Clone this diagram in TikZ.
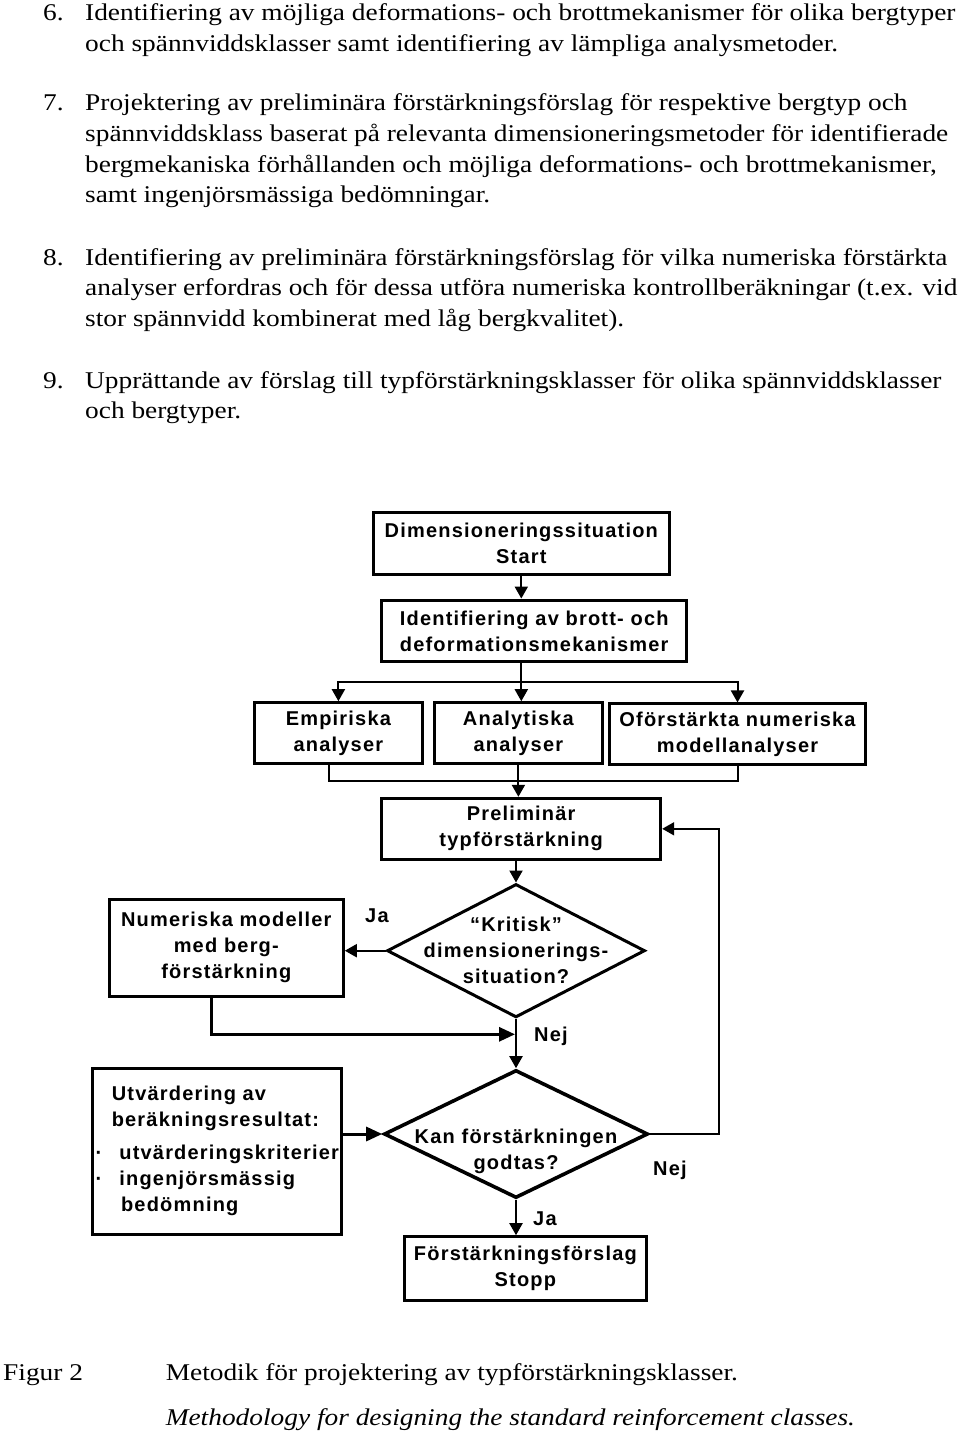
\documentclass[tikz,border=0pt]{standalone}
\usepackage{fontspec}
\setmainfont{Liberation Serif}[FakeStretch=1.14]
\newfontfamily\chartfont{Liberation Sans}[LetterSpace=6]
\usetikzlibrary{arrows.meta,shapes.geometric}

\begin{document}
\begin{tikzpicture}[x=1pt,y=1pt,yscale=-1,
  txt/.style={anchor=base west,inner sep=0pt,font=\fontsize{24}{30}\selectfont},
  btxt/.style={inner sep=0pt,align=center,font=\chartfont\bfseries\fontsize{20}{26}\selectfont},
  box/.style={btxt,draw,line width=3pt},
  decision/.style={draw,shape=diamond,line width=3pt,inner sep=0pt},
  lbl/.style={anchor=base west,inner sep=0pt,font=\chartfont\bfseries\fontsize{20}{26}\selectfont},
  link/.style={line width=2pt},
  arr/.style={line width=2pt,-{Triangle[length=12pt,width=13pt]}},
  bigarr/.style={line width=3pt,-{Triangle[length=16pt,width=14pt]}}
]
\path[use as bounding box,fill=white] (0,0) rectangle (960,1436);

% Text lines
\node[txt] (n6) at (43,20.7) {6.};
\node[txt] (p6a) at (85,20.7) {Identifiering av möjliga deformations- och brottmekanismer för olika bergtyper};
\node[txt] (p6b) at (85,51.4) {och spännviddsklasser samt identifiering av lämpliga analysmetoder.};
\node[txt] (n7) at (43,110.7) {7.};
\node[txt] (p7a) at (85,110.7) {Projektering av preliminära förstärkningsförslag för respektive bergtyp och};
\node[txt] (p7b) at (85,141.4) {spännviddsklass baserat på relevanta dimensioneringsmetoder för identifierade};
\node[txt] (p7c) at (85,172.1) {bergmekaniska förhållanden och möjliga deformations- och brottmekanismer,};
\node[txt] (p7d) at (85,202.8) {samt ingenjörsmässiga bedömningar.};
\node[txt] (n8) at (43,265) {8.};
\node[txt] (p8a) at (85,265) {Identifiering av preliminära förstärkningsförslag för vilka numeriska förstärkta};
\node[txt] (p8b) at (85,295.7) {analyser erfordras och för dessa utföra numeriska kontrollberäkningar (t.ex. vid};
\node[txt] (p8c) at (85,326.4) {stor spännvidd kombinerat med låg bergkvalitet).};
\node[txt] (n9) at (43,388) {9.};
\node[txt] (p9a) at (85,388) {Upprättande av förslag till typförstärkningsklasser för olika spännviddsklasser};
\node[txt] (p9b) at (85,418.7) {och bergtyper.};

% Boxes
\node[box,minimum width=296pt,minimum height=61.3pt] (start) at (521.3,543.4) {Dimensioneringssituation\\Start};
\node[box,minimum width=305pt,minimum height=61.7pt] (ident) at (534.2,630.9) {Identifiering av brott- och\\deformationsmekanismer};
\node[box,minimum width=168.7pt,minimum height=60.6pt] (emp) at (338.4,733) {Empiriska\\analyser};
\node[box,minimum width=168.7pt,minimum height=60.6pt] (ana) at (518.4,733) {Analytiska\\analyser};
\node[box,minimum width=256.4pt,minimum height=60.7pt] (ofo) at (737.5,734.3) {Oförstärkta numeriska\\modellanalyser};
\node[box,minimum width=279pt,minimum height=61pt] (prel) at (521.2,828.8) {Preliminär\\typförstärkning};
\node[box,minimum width=234pt,minimum height=96.7pt] (num) at (226.3,947.7) {Numeriska modeller\\med berg-\\förstärkning};
\node[box,minimum width=248.3pt,minimum height=166pt,text width=210.3pt,align=left,inner xsep=19pt] (utv) at (216.9,1151.3)
  {Utvärdering av\\beräkningsresultat:\\[7pt]\hspace*{7.6pt}\llap{·\hspace{17pt}}utvärderingskriterier\\\hspace*{7.6pt}\llap{·\hspace{17pt}}ingenjörsmässig\\\hspace*{9.3pt}bedömning};
\node[box,minimum width=242.7pt,minimum height=64pt] (stopp) at (525.4,1268.7) {Förstärkningsförslag\\Stopp};

% Decisions
\node[decision,minimum width=258pt,minimum height=133.4pt] (krit) at (516,950.7) {};
\node[btxt] (kritq) at (516,950.5) {“Kritisk”\\dimensionerings-\\situation?};
\node[decision,minimum width=264pt,minimum height=128pt,line width=3.6pt] (kan) at (516,1134) {};
\node[btxt] (kanq) at (516,1151) {Kan förstärkningen\\godtas?};

% Connectors
\coordinate (split) at (521.3,681.7);
\coordinate (merge) at (518.4,781);
\coordinate (join) at (515,1034.3);
\coordinate (loop) at (719.3,1134);
\draw[arr] (start.south) -- (start.south |- ident.north);
\draw[link] (start.south |- ident.south) -- (split);
\draw[arr] (split) -| (emp.north);
\draw[arr] (split) -- (split |- ana.north);
\draw[arr] (split) -| (ofo.north);
\draw[link] ([xshift=-9pt]emp.south) |- (ofo.south |- merge) -- (ofo.south);
\draw[arr] (ana.south) -- (ana.south |- prel.north);
\draw[arr] (krit.north |- prel.south) -- (krit.north);
\draw[arr] (krit.west) -- (krit.west -| num.east);
\draw[bigarr] ([xshift=-14.6pt]num.south) |- (join);
\draw[arr] (krit.south) -- (kan.north);
\draw[bigarr] (utv.east |- kan.west) -- (kan.west);
\draw[arr] (kan.south) -- (kan.south |- stopp.north);
\draw[arr] (kan.east) -- (loop) |- (prel.east);

% Labels
\node[lbl] (ja1) at (365,922.7) {Ja};
\node[lbl] (nej1) at (534,1041.7) {Nej};
\node[lbl] (nej2) at (653,1175) {Nej};
\node[lbl] (ja2) at (533,1225) {Ja};

% Caption
\node[txt] (fig) at (3,1380) {Figur 2};
\node[txt] (capsv) at (165.6,1380) {Metodik för projektering av typförstärkningsklasser.};
\node[txt] (capen) at (165.6,1425) {\itshape Methodology for designing the standard reinforcement classes.};

\end{tikzpicture}
\end{document}
